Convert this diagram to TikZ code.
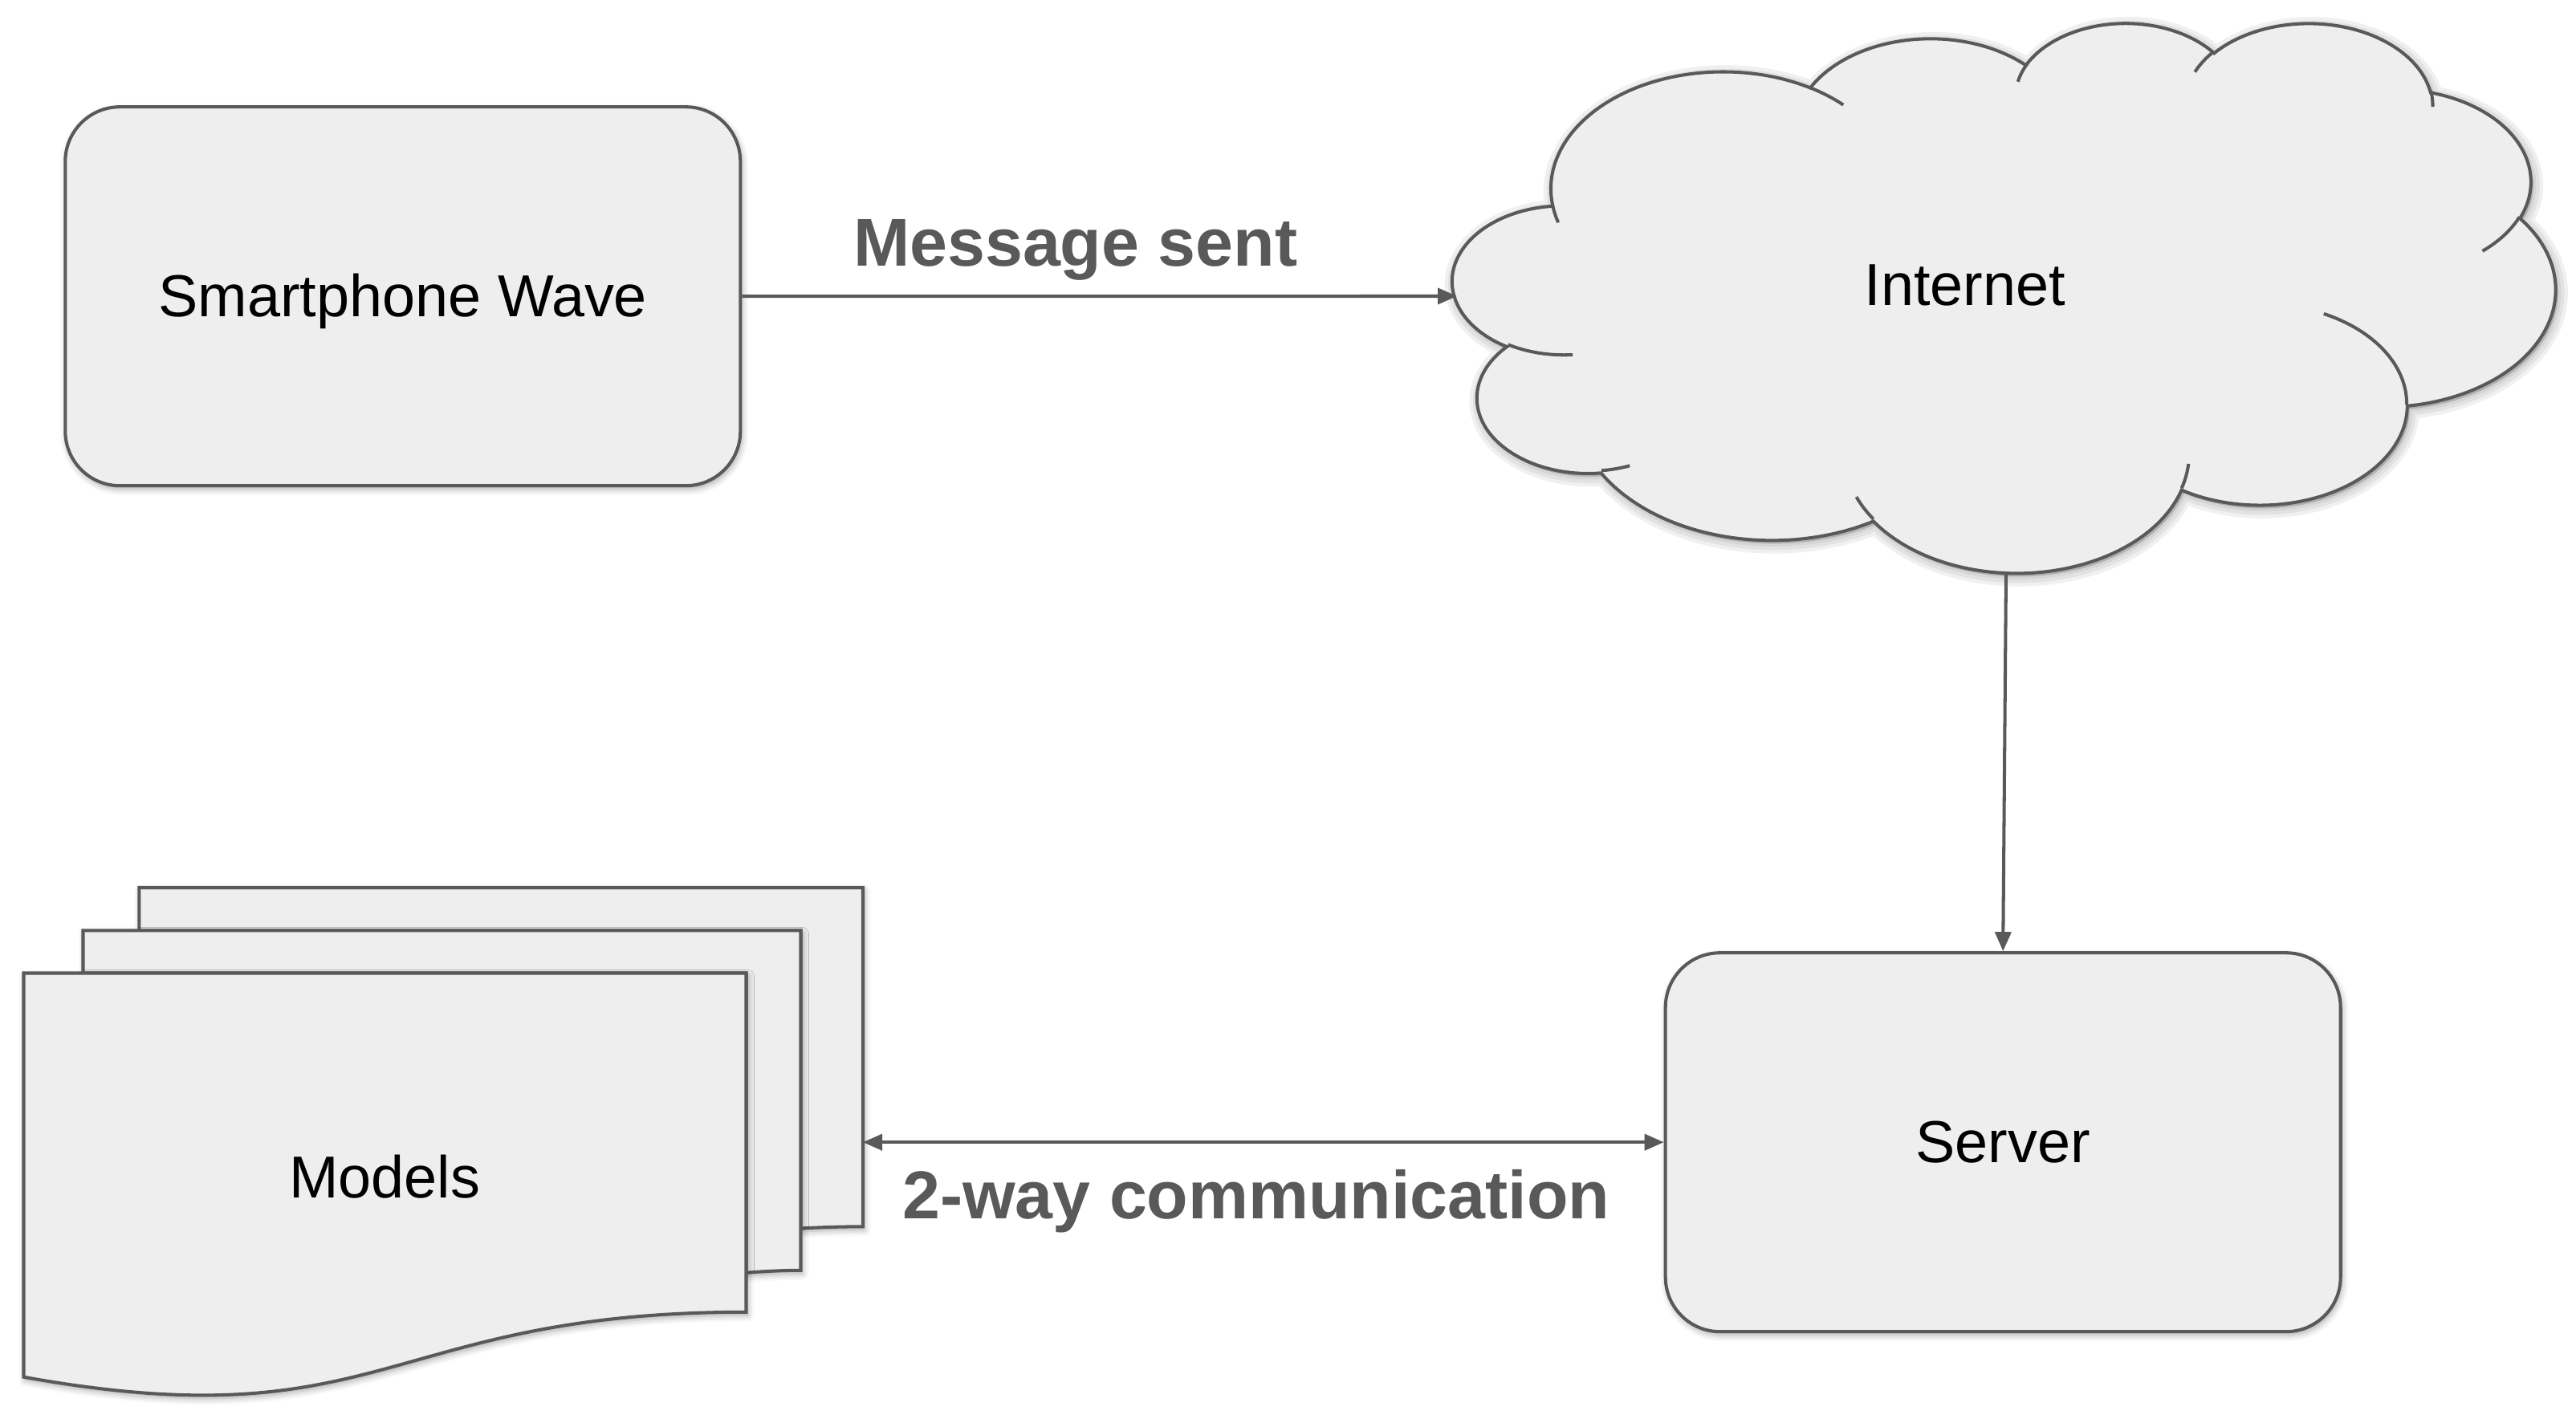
\documentclass[tikz,border=0pt]{standalone}
\usepackage{fontspec}
\setmainfont{Liberation Sans}
\usepackage{tikz}
\usetikzlibrary{arrows.meta, calc, positioning, shadows.blur}
\definecolor{dgray}{HTML}{595959}
\definecolor{lgray}{HTML}{EEEEEE}
\tikzset{
  softshadow/.style = {blur shadow={shadow xshift=0.2mm, shadow yshift=-0.4mm,
                       shadow blur radius=0.8mm, shadow opacity=35}},
  ntext/.style     = {font=\fontsize{21pt}{25pt}\selectfont, inner sep=0pt,
                      text height=19pt, text depth=4.45pt},
  rbox/.style      = {ntext, draw=dgray, fill=lgray, line width=1.15pt,
                      rounded corners=6.8mm, minimum width=8.41cm,
                      minimum height=4.72cm, softshadow},
  sheet/.style     = {draw=dgray, fill=lgray, line width=1.15pt, softshadow},
  cloudline/.style = {draw=dgray, line width=1.15pt},
  conn/.style      = {draw=dgray, line width=1.15pt,
                      -{Triangle[length=2.4mm, width=2mm]}},
  conn2/.style     = {conn, {Triangle[length=2.4mm, width=2mm]}-{Triangle[length=2.4mm, width=2mm]}},
  clabel/.style    = {font=\fontsize{24pt}{29pt}\selectfont\bfseries,
                      text=dgray, inner sep=0pt},
}
% one lobe of the cloud: x radius, y radius, start and sweep as seen on the page
\newcommand{\cloudarc}[4]{arc[x radius=#1, y radius=#2,
  start angle={atan2(sin(#3)*#1,cos(#3)*#2)},
  delta angle={mod(atan2(sin(#3+#4)*#1,cos(#3+#4)*#2)-atan2(sin(#3)*#1,cos(#3)*#2)+720,360)}]}
\newcommand{\cloudbody}{(39.00,143.70)
  \cloudarc{67.53}{91.90}{-190.4875}{123.7805}
  \cloudarc{53.33}{72.67}{-144.1024}{89.9452}
  \cloudarc{43.65}{59.45}{-145.8079}{99.7230}
  \cloudarc{48.57}{65.95}{-130.9861}{117.2417}
  \cloudarc{53.33}{72.73}{-78.7089}{109.0269}
  \cloudarc{67.75}{92.20}{-46.2673}{130.2690}
  \cloudarc{57.85}{78.67}{0.6250}{114.0333}
  \cloudarc{67.52}{92.15}{22.4516}{115.1726}
  \cloudarc{77.20}{105.43}{66.2426}{75.7110}
  \cloudarc{43.60}{59.18}{-274.9421}{146.7356}
  \cloudarc{43.45}{59.45}{-246.8285}{152.5254}
  -- cycle}

\begin{document}
\begin{tikzpicture}
  \useasboundingbox (0,0) rectangle (32.09,17.77);

  % stack of model sheets
  \path[sheet] (1.733,6.710) -- (10.750,6.710) -- (10.750,2.487)
    .. controls (10.362,2.487) and (9.975,2.465) .. (9.975,2.465)
    -- (9.975,6.177) -- (1.733,6.177) -- cycle;
  \path[sheet] (1.035,6.177) -- (9.975,6.177) -- (9.975,1.942)
    .. controls (9.635,1.942) and (9.295,1.912) .. (9.295,1.912)
    -- (9.295,5.645) -- (1.035,5.645) -- cycle;
  \path[sheet] (0.295,5.645) -- (9.295,5.645) -- (9.295,1.422)
    .. controls (4.795,1.422) and (4.795,-0.197) .. (0.295,0.613) -- cycle;
  \node[ntext] (models) at (4.79,3.10) {Models};
  \coordinate (stack-e) at (10.75,3.538);

  % cloud
  \begin{scope}[shift={(18.13,17.46)}, xscale=0.0317824, yscale=-0.0158565]
    \foreach \w in {7,4.5,2}
      \path[draw=black, fill=black, opacity=0.06, line width=\w pt] \cloudbody;
  \end{scope}
  \begin{scope}[shift={(18.10,17.50)}, xscale=0.0317824, yscale=-0.0158565]
    \path[fill=lgray, cloudline] \cloudbody;
    \path[cloudline] (46.93,261.77) \cloudarc{43.45}{59.45}{86.7420}{26.4295}
      (69.28,348.99) \cloudarc{43.60}{59.18}{73.6105}{11.4475}
      (164.78,390.90) \cloudarc{67.52}{92.15}{137.6242}{14.0811}
      (288.27,347.51) \cloudarc{67.52}{92.15}{6.4533}{15.9984}
      (341.29,229.54) \cloudarc{57.85}{78.67}{-70.2924}{70.9174}
      (417.98,153.54) \cloudarc{53.33}{72.73}{30.3180}{27.7515}
      (383.24,54.26) \cloudarc{48.57}{65.95}{-13.7443}{14.8589}
      (290.78,39.52) \cloudarc{48.57}{65.95}{-149.1815}{18.1954}
      (221.41,47.20) \cloudarc{43.65}{59.45}{-163.4943}{17.6864}
      (140.00,51.92) \cloudarc{67.53}{91.90}{-66.7070}{12.3194}
      (41.27,157.89) \cloudarc{67.53}{91.90}{157.6544}{11.8582};
  \end{scope}
  \node[ntext] (internet) at (24.48,14.22) {Internet};
  \coordinate (cloud-w) at (18.15,14.08);
  \coordinate (cloud-s) at (24.99,10.63);

  \node[rbox] (phone) at (5.018,14.078) {Smartphone Wave};
  \node[rbox] (server) at (24.952,3.538) {Server};

  \draw[conn] (phone.east) -- (cloud-w)
    node[clabel, midway, above=1.8mm, xshift=-3.0mm] (msg) {Message sent};
  \draw[conn] (cloud-s) -- (server.north);
  \draw[conn2] (stack-e) -- (server.west)
    node[clabel, midway, below=3.2mm, xshift=-0.9mm] (twoway) {2-way communication};
\end{tikzpicture}
\end{document}
